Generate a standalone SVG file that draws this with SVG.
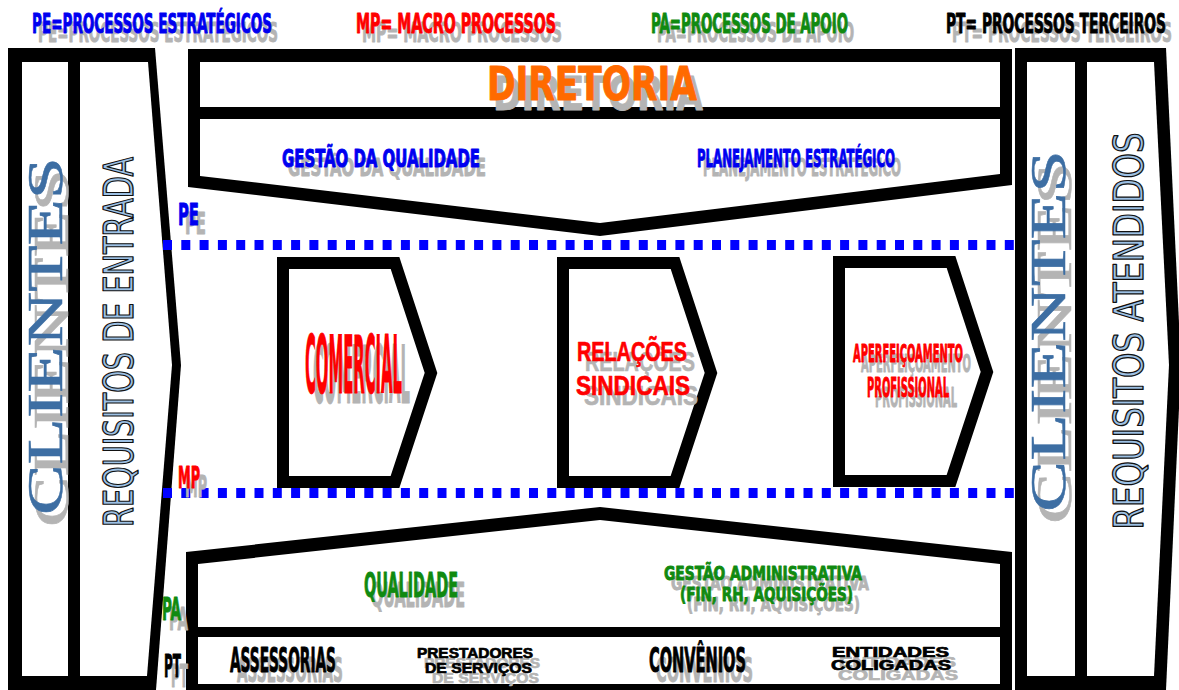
<svg xmlns="http://www.w3.org/2000/svg" xmlns:xlink="http://www.w3.org/1999/xlink" width="1179" height="690" viewBox="0 0 1179 690">
<style>
.imp{font-family:"Liberation Sans Narrow","DejaVu Sans Condensed","Liberation Sans",sans-serif;font-weight:bold;stroke-width:0.9;stroke-linejoin:round}
.blk{font-family:"Liberation Sans","DejaVu Sans",sans-serif;font-weight:bold;stroke-width:0.7;stroke-linejoin:round}
.ser{font-family:"Liberation Serif","DejaVu Serif",serif;stroke-width:0.5}
.req{font-family:"Liberation Sans Narrow","DejaVu Sans Condensed","Liberation Sans",sans-serif;fill:#9cc0e4;stroke:#111;stroke-width:1.3;stroke-linejoin:round}
.blue{fill:#0000f0;stroke:#0000f0}
.red{fill:#ff0000;stroke:#ff0000}
.green{fill:#108a10;stroke:#108a10}
.black{fill:#000;stroke:#000}
.orange{fill:#ff6a00;stroke:#ff6a00}
.steel{fill:#3d6ea3;stroke:#3d6ea3}
.sh{fill:#b4b4b4;stroke:#b4b4b4}
.frame{fill:#000}
.in{fill:#fff}
.dots{fill:none;stroke:#0000ff;stroke-width:10;stroke-dasharray:9 9.3}
.chev{fill:#fff;stroke:#000;stroke-width:12;stroke-linejoin:miter}
</style>
<defs>
<polygon id="chevron" class="chev" points="6,6 118,6 154,116 118,225 6,225"/>
</defs>
<rect width="1179" height="690" fill="#fff"/>

<g id="legend">
<use xlink:href="#lg1" class="sh" transform="translate(6,9)"/>
<use xlink:href="#lg2" class="sh" transform="translate(6,9)"/>
<use xlink:href="#lg3" class="sh" transform="translate(6,9)"/>
<use xlink:href="#lg4" class="sh" transform="translate(6,9)"/>
<g class="blue"><text id="lg1" class="imp" x="32" y="33" font-size="27" textLength="240" lengthAdjust="spacingAndGlyphs">PE=PROCESSOS ESTRATÉGICOS</text></g>
<g class="red"><text id="lg2" class="imp" x="356" y="33" font-size="27" textLength="200" lengthAdjust="spacingAndGlyphs">MP= MACRO PROCESSOS</text></g>
<g class="green"><text id="lg3" class="imp" x="651" y="33" font-size="27" textLength="197" lengthAdjust="spacingAndGlyphs">PA=PROCESSOS DE APOIO</text></g>
<g class="black"><text id="lg4" class="imp" x="946" y="33" font-size="27" textLength="220" lengthAdjust="spacingAndGlyphs">PT= PROCESSOS TERCEIROS</text></g>
</g>

<g id="clientes-entrada">
<polygon class="frame" points="8,48 155,48 181,365 156,690 8,690"/>
<rect class="in" x="22" y="62" width="46" height="614"/>
<polygon class="in" points="80,62 148,62 172,365 147,676 80,676"/>
<use xlink:href="#cl1" class="sh" transform="translate(6,12)"/>
<g class="steel"><text id="cl1" class="ser" transform="translate(62,336) rotate(-90)" text-anchor="middle" font-size="50" textLength="358" lengthAdjust="spacingAndGlyphs">CLIENTES</text></g>
<text class="req" transform="translate(133,342) rotate(-90)" text-anchor="middle" font-size="41" textLength="370" lengthAdjust="spacingAndGlyphs">REQUISITOS DE ENTRADA</text>
</g>

<g id="clientes-atendidos">
<polygon class="frame" points="1015,48 1166,48 1181,365 1166,690 1015,690"/>
<rect class="in" x="1027" y="62" width="48" height="614"/>
<polygon class="in" points="1087,62 1154,62 1169,365 1154,676 1087,676"/>
<use xlink:href="#cl2" class="sh" transform="translate(6,12)"/>
<g class="steel"><text id="cl2" class="ser" transform="translate(1065,331) rotate(-90)" text-anchor="middle" font-size="50" textLength="362" lengthAdjust="spacingAndGlyphs">CLIENTES</text></g>
<text class="req" transform="translate(1143,331) rotate(-90)" text-anchor="middle" font-size="41" textLength="397" lengthAdjust="spacingAndGlyphs">REQUISITOS ATENDIDOS</text>
</g>

<g id="diretoria-estrategicos">
<polygon class="frame" points="188,49 1012,49 1012,185 600,236 188,187"/>
<rect class="in" x="200" y="62" width="800" height="45"/>
<polygon class="in" points="200,119 1000,119 1000,174 600,223 200,176"/>
<use xlink:href="#dir" class="sh" transform="translate(6,10)"/>
<use xlink:href="#gq" class="sh" transform="translate(6,9)"/>
<use xlink:href="#pl" class="sh" transform="translate(6,9)"/>
<g class="orange"><text id="dir" class="imp" x="487" y="100" font-size="47" textLength="210" lengthAdjust="spacingAndGlyphs">DIRETORIA</text></g>
<g class="blue">
<text id="gq" class="imp" x="282" y="167" font-size="24" textLength="198" lengthAdjust="spacingAndGlyphs">GESTÃO DA QUALIDADE</text>
<text id="pl" class="imp" x="697" y="167" font-size="24" textLength="198" lengthAdjust="spacingAndGlyphs">PLANEJAMENTO ESTRATÉGICO</text>
</g>
</g>

<g id="dividers">
<line class="dots" x1="163" y1="245" x2="1015" y2="245"/>
<line class="dots" x1="163" y1="493" x2="1015" y2="493"/>
</g>

<g id="label-pe">
<use xlink:href="#lpe" class="sh" transform="translate(7,9)"/>
<g class="blue"><text id="lpe" class="imp" x="178" y="225" font-size="30" textLength="21" lengthAdjust="spacingAndGlyphs">PE</text></g>
</g>
<g id="label-mp">
<use xlink:href="#lmp" class="sh" transform="translate(7,9)"/>
<g class="red"><text id="lmp" class="imp" x="178" y="488" font-size="30" textLength="22" lengthAdjust="spacingAndGlyphs">MP</text></g>
</g>

<g id="comercial">
<use xlink:href="#chevron" transform="translate(277,257)"/>
<use xlink:href="#tcom" class="sh" transform="translate(8,10)"/>
<g class="red"><text id="tcom" class="imp" x="305" y="393" font-size="80" textLength="97" lengthAdjust="spacingAndGlyphs">COMERCIAL</text></g>
</g>

<g id="relacoes-sindicais">
<use xlink:href="#chevron" transform="translate(557,257)"/>
<use xlink:href="#trel1" class="sh" transform="translate(8,10)"/>
<use xlink:href="#trel2" class="sh" transform="translate(8,10)"/>
<g class="red">
<text id="trel1" class="blk" x="577" y="361" font-size="28" textLength="110" lengthAdjust="spacingAndGlyphs">RELAÇÕES</text>
<text id="trel2" class="blk" x="576" y="395" font-size="28" textLength="114" lengthAdjust="spacingAndGlyphs">SINDICAIS</text>
</g>
</g>

<g id="aperfeicoamento">
<use xlink:href="#chevron" transform="translate(833,256)"/>
<use xlink:href="#tap1" class="sh" transform="translate(8,10)"/>
<use xlink:href="#tap2" class="sh" transform="translate(8,10)"/>
<g class="red">
<text id="tap1" class="imp" x="853" y="362" font-size="25" textLength="110" lengthAdjust="spacingAndGlyphs">APERFEIÇOAMENTO</text>
<text id="tap2" class="imp" x="867" y="397" font-size="27" textLength="82" lengthAdjust="spacingAndGlyphs">PROFISSIONAL</text>
</g>
</g>

<g id="apoio-terceiros">
<polygon class="frame" points="186,552 600,507 1012,552 1012,690 186,690"/>
<polygon class="in" points="198,564 600,520 1000,564 1000,627 198,627"/>
<rect class="in" x="198" y="637" width="802" height="47"/>
<use xlink:href="#tq" class="sh" transform="translate(7,10)"/>
<use xlink:href="#tga1" class="sh" transform="translate(7,10)"/>
<use xlink:href="#tga2" class="sh" transform="translate(7,10)"/>
<use xlink:href="#lpa" class="sh" transform="translate(7,10)"/>
<use xlink:href="#lpt" class="sh" transform="translate(7,10)"/>
<use xlink:href="#tas" class="sh" transform="translate(7,10)"/>
<use xlink:href="#tpr1" class="sh" transform="translate(7,10)"/>
<use xlink:href="#tpr2" class="sh" transform="translate(7,10)"/>
<use xlink:href="#tcv" class="sh" transform="translate(7,10)"/>
<use xlink:href="#ten1" class="sh" transform="translate(7,10)"/>
<use xlink:href="#ten2" class="sh" transform="translate(7,10)"/>
<g class="green">
<text id="tq" class="imp" x="364" y="597" font-size="34" textLength="94" lengthAdjust="spacingAndGlyphs">QUALIDADE</text>
<text id="tga1" class="imp" x="664" y="580" font-size="20" textLength="198" lengthAdjust="spacingAndGlyphs">GESTÃO ADMINISTRATIVA</text>
<text id="tga2" class="imp" x="680" y="601" font-size="20" textLength="173" lengthAdjust="spacingAndGlyphs">(FIN, RH, AQUISIÇÕES)</text>
<text id="lpa" class="imp" x="162" y="620" font-size="32" textLength="19" lengthAdjust="spacingAndGlyphs">PA</text>
</g>
<g class="black">
<text id="lpt" class="imp" x="164" y="677" font-size="32" textLength="17" lengthAdjust="spacingAndGlyphs">PT</text>
<text id="tas" class="imp" x="230" y="672" font-size="33" textLength="106" lengthAdjust="spacingAndGlyphs">ASSESSORIAS</text>
<text id="tpr1" class="blk" x="417" y="658" font-size="14" textLength="116" lengthAdjust="spacingAndGlyphs">PRESTADORES</text>
<text id="tpr2" class="blk" x="425" y="673" font-size="14" textLength="107" lengthAdjust="spacingAndGlyphs">DE SERVIÇOS</text>
<text id="tcv" class="imp" x="649" y="672" font-size="33" textLength="97" lengthAdjust="spacingAndGlyphs">CONVÊNIOS</text>
<text id="ten1" class="blk" x="832" y="657" font-size="14" textLength="117" lengthAdjust="spacingAndGlyphs">ENTIDADES</text>
<text id="ten2" class="blk" x="831" y="670" font-size="14" textLength="120" lengthAdjust="spacingAndGlyphs">COLIGADAS</text>
</g>
</g>
</svg>
